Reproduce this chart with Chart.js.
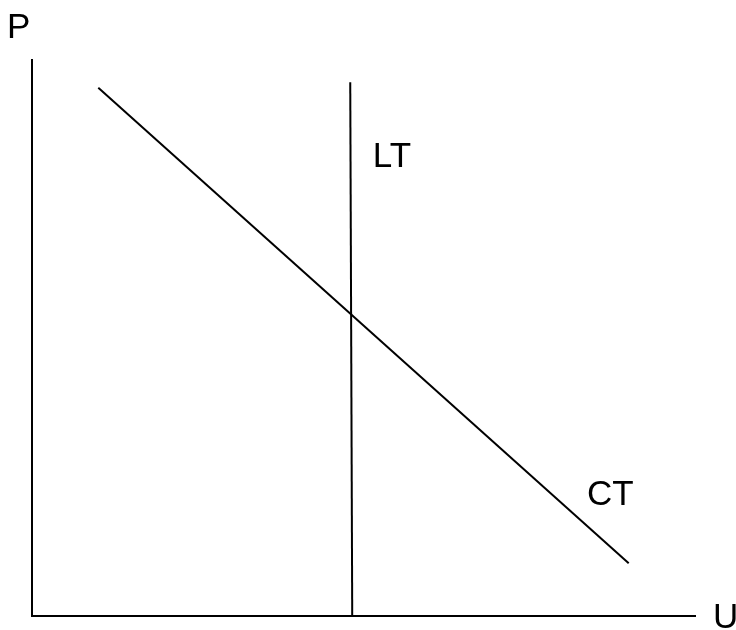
<!DOCTYPE html>
<html>
<head>
<meta charset="utf-8">
<script src="https://cdn.jsdelivr.net/npm/chart.js@4"></script>
<style>
  html, body { margin: 0; padding: 0; background: #fff; }
  #wrap { width: 736px; height: 630px; }
</style>
</head>
<body>
<div id="wrap"><canvas id="myChart"></canvas></div>
<script>
// short run curve CT (U, P)
const ctU = [1.0, 9.0];
const ctP = [9.5, 0.95];
// long run curve LT, vertical
const ltU = [4.8, 4.83];
const ltP = [9.6, 0];
// axis names and curve names
const axisNames = ["U", "P"];
const curveNames = ["CT", "LT"];
// where the curve names sit (U, P)
const ctLabelAt = [8.37, 2.0];
const ltLabelAt = [5.14, 8.08];

const FONT = '35px "Liberation Sans", Arial, sans-serif';

const labelPlugin = {
  id: 'labels',
  afterDraw(chart) {
    const c = chart.ctx;
    const a = chart.chartArea;
    const xs = chart.scales.x, ys = chart.scales.y;
    c.save();
    c.font = FONT;
    c.fillStyle = '#000';
    c.textBaseline = 'alphabetic';
    c.textAlign = 'left';
    c.fillText(axisNames[1], a.left - 25, a.top - 22);
    c.fillText(axisNames[0], a.right + 18, a.bottom + 12);
    c.fillText(curveNames[0], xs.getPixelForValue(ctLabelAt[0]), ys.getPixelForValue(ctLabelAt[1]));
    c.fillText(curveNames[1], xs.getPixelForValue(ltLabelAt[0]), ys.getPixelForValue(ltLabelAt[1]));
    c.restore();
  }
};

const ctx = document.getElementById("myChart").getContext("2d");
const chart = new Chart(ctx, {
  type: "scatter",
  data: {
    datasets: [{
      label: curveNames[0],
      data: ctU.map((u, i) => ({x: u, y: ctP[i]})),
      showLine: true,
      borderColor: "#000",
      borderWidth: 2,
      pointRadius: 0,
      fill: false
    }, {
      label: curveNames[1],
      data: ltU.map((u, i) => ({x: u, y: ltP[i]})),
      showLine: true,
      borderColor: "#000",
      borderWidth: 2,
      pointRadius: 0,
      fill: false
    }]
  },
  options: {
    responsive: true,
    maintainAspectRatio: false,
    animation: false,
    layout: {padding: {left: 32, right: 41, top: 60, bottom: 14}},
    plugins: {legend: {display: false}, tooltip: {enabled: false}},
    scales: {
      x: {
        type: "linear", min: 0, max: 10,
        grid: {display: false},
        border: {display: true, color: "#000", width: 2},
        ticks: {display: false},
        afterFit(s) { s.height = 0; }
      },
      y: {
        type: "linear", min: 0, max: 10,
        grid: {display: false},
        border: {display: true, color: "#000", width: 2},
        ticks: {display: false},
        afterFit(s) { s.width = 0; }
      }
    }
  },
  plugins: [labelPlugin]
});
</script>
</body>
</html>
